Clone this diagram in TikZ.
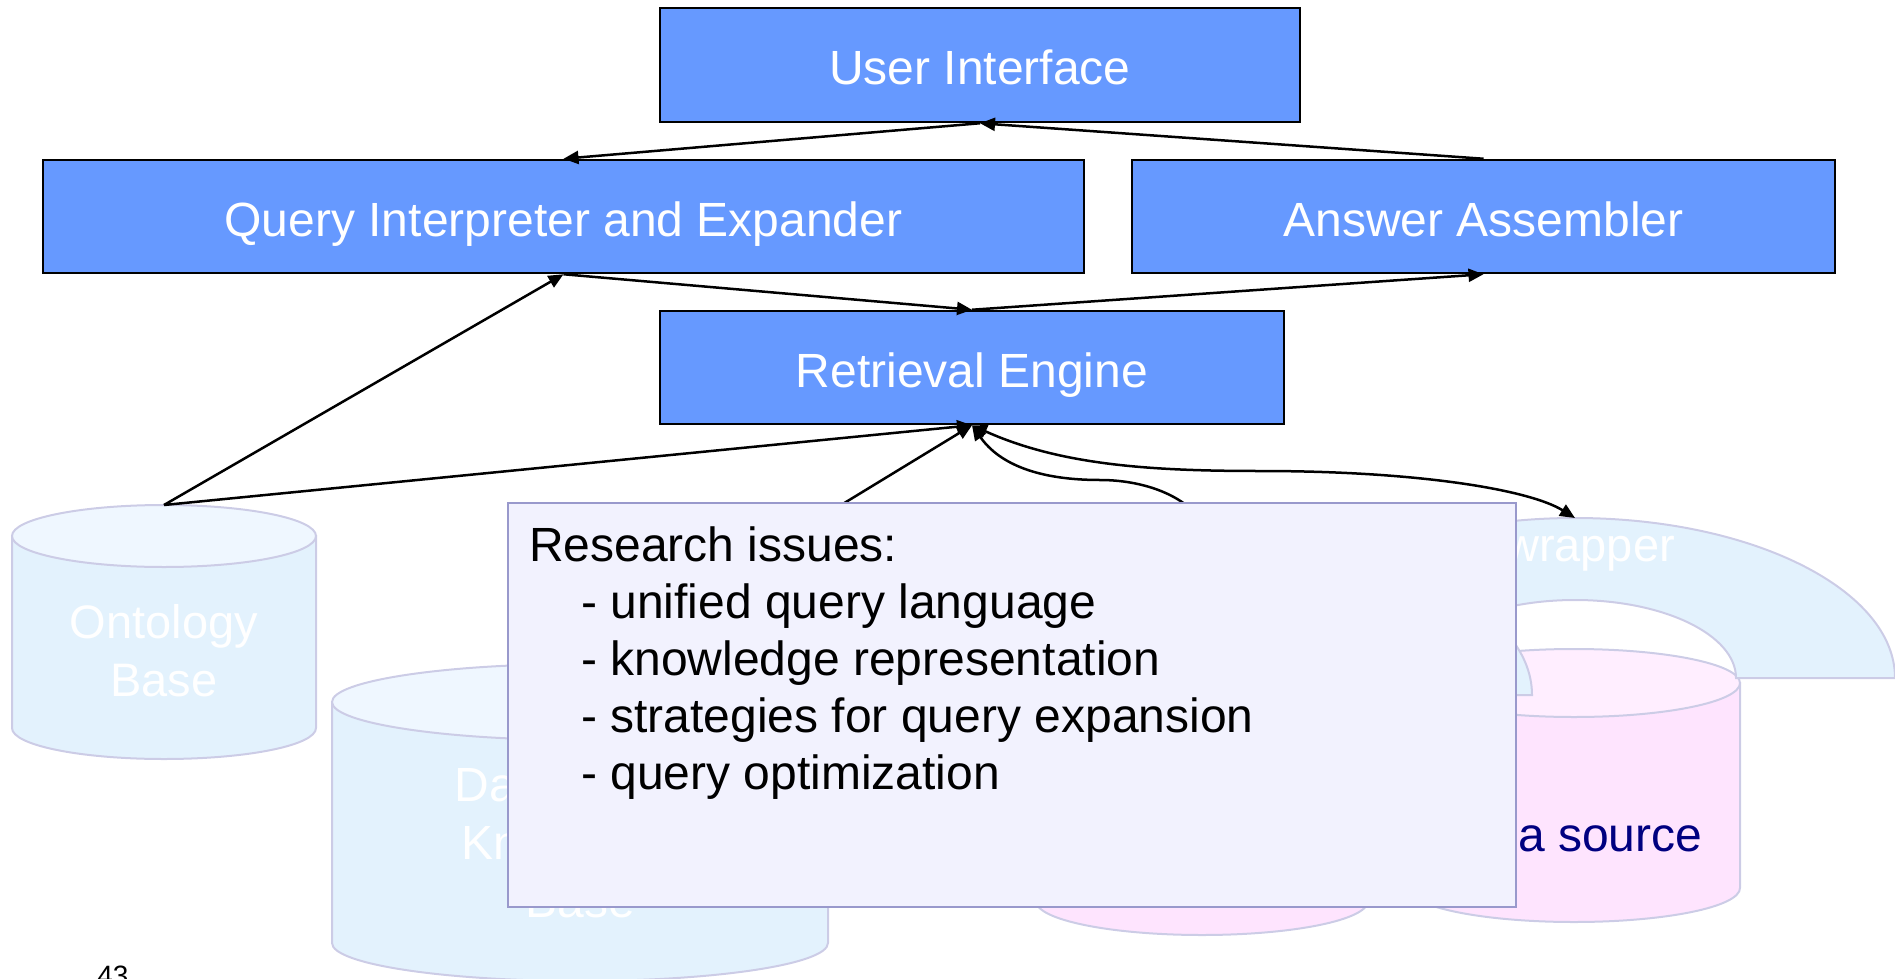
\documentclass[tikz,border=0pt]{standalone}
\usepackage{fontspec}
\setmainfont{Liberation Sans}
\usetikzlibrary{arrows.meta}
\definecolor{boxblue}{HTML}{6699FF}
\definecolor{cylbody}{HTML}{E3F2FD}
\definecolor{cyltop}{HTML}{EFF7FF}
\definecolor{cyledge}{HTML}{CCCCE6}
\definecolor{pinkbody}{HTML}{FEE4FE}
\definecolor{pinktop}{HTML}{FFEEFF}
\definecolor{wrapfill}{HTML}{E3F2FD}
\definecolor{notefill}{HTML}{F2F2FE}
\definecolor{noteedge}{HTML}{9999CC}
\definecolor{navytext}{HTML}{000080}
\newcommand{\mycyl}[9]{%
  \filldraw[fill=#7,draw=#9,line width=2pt] ({#2-#5},#3) -- ({#2-#5},#4)
    arc[start angle=180,end angle=360,x radius=#5pt,y radius=#6pt] -- ({#2+#5},#3) -- cycle;
  \filldraw[fill=#8,draw=#9,line width=2pt] (#2,#3) ellipse[x radius=#5pt,y radius=#6pt];
  \coordinate (#1) at (#2,{#3-#6});
}
\newcommand{\mywrap}[7]{% name cx by outer-rx outer-ry inner-rx inner-ry
  \filldraw[fill=wrapfill,draw=cyledge,line width=2pt] ({#2-#4},#3)
    arc[start angle=180,end angle=0,x radius=#4pt,y radius=#5pt] -- ({#2+#6},#3)
    arc[start angle=0,end angle=180,x radius=#6pt,y radius=#7pt] -- cycle;
  \coordinate (#1) at (#2,{#3-#5});
}
\begin{document}
\begin{tikzpicture}[x=1pt,y=-1pt,
  comp/.style={draw=black,line width=2.5pt,fill=boxblue,text=white,
    font=\fontsize{48}{56}\selectfont,inner sep=0pt,text height=50pt,text depth=10pt},
  conn/.style={line width=2.5pt,-{Triangle[length=15pt,width=13pt]}},
  biconn/.style={line width=2.5pt,{Triangle[length=15pt,width=13pt]}-{Triangle[length=15pt,width=13pt]}},
  cyltext/.style={text=white,align=center,inner sep=0pt},
  notetext/.style={anchor=base west,inner sep=0pt,font=\fontsize{48}{57}\selectfont}]
\useasboundingbox (0,0) rectangle (1895,979);

% storage cylinders and wrappers
\mycyl{onttop}{164}{536}{728}{152}{31}{cylbody}{cyltop}{cyledge}
\node[cyltext,font=\fontsize{47}{58}\selectfont] (ont) at (164,651) {Ontology\\Base};
\mycyl{dkbtop}{580}{702}{943}{248}{38}{cylbody}{cyltop}{cyledge}
\node[cyltext,font=\fontsize{48}{58}\selectfont] (dkb) at (580,842.5) {Database \&\\Knowledge\\Base};
\mycyl{pinkAtop}{1202}{696}{901}{166}{34}{pinkbody}{pinktop}{cyledge}
\mycyl{pinkBtop}{1574}{683}{888}{166}{34}{pinkbody}{pinktop}{cyledge}
\node[text=navytext,inner sep=0pt,font=\fontsize{48}{56}\selectfont] (dsB) at (1573,835) {Data source};
\mywrap{wrapA}{1207}{695}{325}{160}{161}{78}
\mywrap{wrapB}{1575}{678}{320}{160}{161}{78}
\node[text=white,inner sep=0pt,font=\fontsize{47}{56}\selectfont] (wrB) at (1590,554) {wrapper};

% components
\node[comp,minimum width=640pt,minimum height=114pt] (ui) at (980,65) {User Interface};
\node[comp,minimum width=1041pt,minimum height=113pt] (qi) at (563.5,216.5) {Query Interpreter and Expander};
\node[comp,minimum width=703pt,minimum height=113pt] (aa) at (1483.5,216.5) {Answer Assembler};
\node[comp,minimum width=624pt,minimum height=113pt] (re) at (972,367.5) {Retrieval Engine};

% connectors
\draw[conn] (ui.south) -- (qi.north);
\draw[conn] (aa.north) -- (ui.south);
\draw[conn] (qi.south) -- (re.north);
\draw[conn] (re.north) -- (aa.south);
\draw[conn] (onttop) -- (qi.south);
\draw[conn] (onttop) -- (re.south);
\draw[conn] (dkbtop) -- (re.south);
\draw[biconn] (re.south) .. controls (1000,465) and (1040,480) .. (1100,480)
  .. controls (1150,480) and (1190,500) .. (wrapA);
\draw[biconn] (re.south) .. controls (1060,465) and (1150,471) .. (1260,471)
  .. controls (1420,471) and (1530,490) .. (wrapB);

% research note
\node[draw=noteedge,fill=notefill,line width=2.5pt,minimum width=1008pt,minimum height=404pt,inner sep=0pt] (note) at (1012,705) {};
\node[notetext] (r1) at (529,561) {Research issues:};
\node[notetext] (r2) at (581,618) {- unified query language};
\node[notetext] (r3) at (581,675) {- knowledge representation};
\node[notetext] (r4) at (581,732) {- strategies for query expansion};
\node[notetext] (r5) at (581,789) {- query optimization};

\node[anchor=base,inner sep=0pt,font=\fontsize{28}{30}\selectfont] (pg) at (113,985) {43};
\end{tikzpicture}
\end{document}
